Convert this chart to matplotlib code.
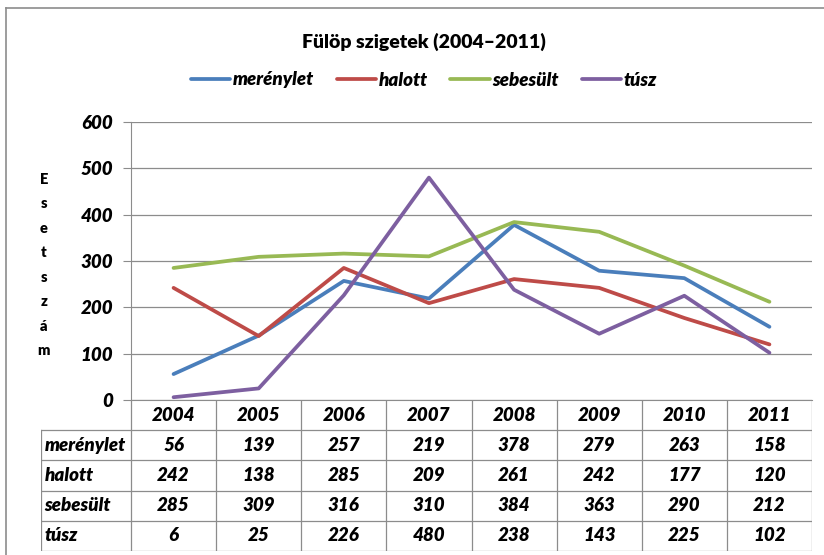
import matplotlib.pyplot as plt
from matplotlib.lines import Line2D
import numpy as np

plt.rcParams['font.family'] = ['Lato', 'DejaVu Sans']

years = ['2004', '2005', '2006', '2007', '2008', '2009', '2010', '2011']
series_names = ['merénylet', 'halott', 'sebesült', 'túsz']
merenylet = [56, 139, 257, 219, 378, 279, 263, 158]
halott = [242, 138, 285, 209, 261, 242, 177, 120]
sebesult = [285, 309, 316, 310, 384, 363, 290, 212]
tusz = [6, 25, 226, 480, 238, 143, 225, 102]
colors = ['#4A7EBB', '#BE4B48', '#98B954', '#7D5FA0']
yticks = [0, 100, 200, 300, 400, 500, 600]

W, H = 824, 555
fig = plt.figure(figsize=(W / 100, H / 100), dpi=100)

def fx(px):
    return px / W

def fy(py):
    return 1 - py / H

BW = 'heavy'
FS = 13.5

# chart border (cut off on right and bottom)
fig.add_artist(Line2D([fx(6), fx(6)], [fy(8), 0], color='#8C8C8C', lw=1.2))
fig.add_artist(Line2D([fx(6), 1], [fy(8), fy(8)], color='#8C8C8C', lw=1.2))

grid_c = '#8C8C8C'
x = np.arange(len(years))
ax = fig.add_axes([fx(131), fy(400), fx(812) - fx(131), fy(122) - fy(400)])
data = [merenylet, halott, sebesult, tusz]
for name, vals, c in zip(series_names, data, colors):
    ax.plot(x, vals, color=c, lw=2.7, label=name, solid_capstyle='round')
ax.set_xlim(-0.5, len(years) - 0.5)
ax.set_ylim(0, 600)
ax.set_yticks(yticks)
ax.set_yticklabels([str(v) for v in yticks], fontsize=FS, fontweight=BW, style='italic')
ax.set_xticks([])
ax.grid(axis='y', color=grid_c, lw=0.9)
ax.set_axisbelow(True)
ax.tick_params(axis='y', length=6, color=grid_c, pad=7)
for s in ['top', 'right']:
    ax.spines[s].set_visible(False)
ax.spines['left'].set_color(grid_c)
ax.spines['bottom'].set_color(grid_c)

# data table under the chart
tab = fig.add_axes([fx(41), fy(551), fx(812) - fx(41), fy(400) - fy(551)])
lab_w = (131 - 41) / ((812 - 131) / len(years))
left = -0.5 - lab_w
right = len(years) - 0.5
tab.set_xlim(left, right)
tab.set_ylim(5, 0)
tab.axis('off')
tc = '#8C8C8C'
for i in range(len(years) + 1):
    tab.plot([i - 0.5, i - 0.5], [0, 5], color=tc, lw=0.9)
tab.plot([left, left], [1, 5], color=tc, lw=0.9)
for r in range(1, 6):
    tab.plot([left, right], [r, r], color=tc, lw=0.9)
for i, yr in enumerate(years):
    tab.text(i, 0.5, yr, ha='center', va='center', fontsize=FS, fontweight=BW, style='italic')
for r, (name, vals) in enumerate(zip(series_names, data)):
    tab.text(left + 0.04, r + 1.5, name, ha='left', va='center', fontsize=FS,
             fontweight=BW, style='italic')
    for i, v in enumerate(vals):
        tab.text(i, r + 1.5, str(v), ha='center', va='center', fontsize=FS,
                 fontweight=BW, style='italic')

fig.text(fx(424), fy(42), 'Fülöp szigetek (2004–2011)', ha='center', va='center',
         fontsize=14, fontweight=BW)
fig.text(fx(44), fy(265), '\n'.join('Esetszám'), ha='center', va='center',
         fontsize=10.5, fontweight=BW, linespacing=2.05)

handles, labels = ax.get_legend_handles_labels()
fig.legend(handles, labels, loc='center', bbox_to_anchor=(fx(424), fy(80)), ncol=4,
           frameon=False, handlelength=2.1, handletextpad=0.15, columnspacing=1.2,
           prop={'size': FS, 'weight': BW, 'style': 'italic'})

fig.savefig('out.png', dpi=100)
